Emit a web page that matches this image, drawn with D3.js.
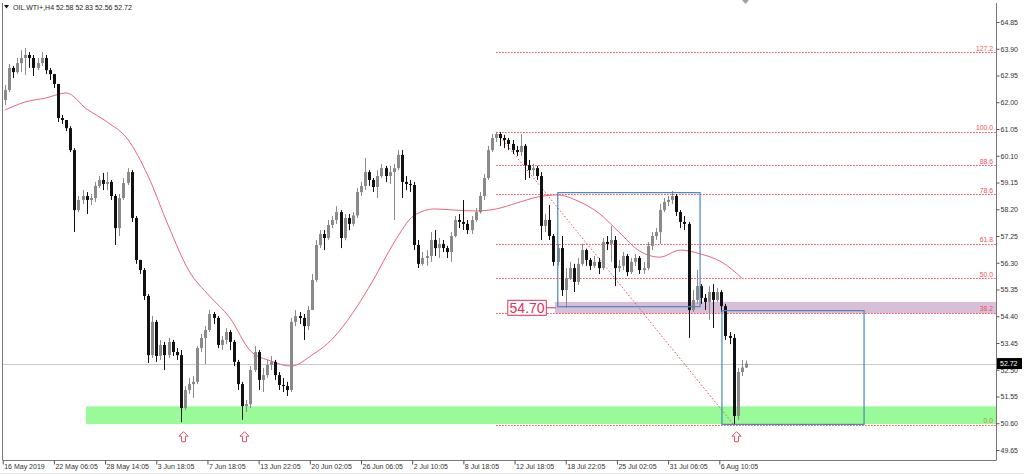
<!DOCTYPE html>
<html>
<head>
<meta charset="utf-8">
<script src="https://cdnjs.cloudflare.com/ajax/libs/d3/7.8.5/d3.min.js"></script>
<style>
  body { margin: 0; background: #fff; }
  svg { display: block; font-family: "Liberation Sans", Arial, sans-serif; }
</style>
</head>
<body>
<div id="chart"></div>
<script>
// Header quote (open, high, low, close of the last bar)
const symbolTitle = "OIL.WTI+,H4";
const lastQuote = [52.58, 52.83, 52.56, 52.72];

// Candles, each one covers two H4 bars (10 per row)
const opens = [
  62.08, 62.43, 63.22, 63.07, 63.39, 63.57, 63.68, 63.57, 63.22, 63.39,
  63.57, 63.14, 63.00, 62.65, 61.44, 61.37, 61.08, 60.30, 58.17, 58.53,
  58.67, 58.53, 58.60, 59.03, 59.24, 59.10, 59.17, 58.67, 57.53, 58.60,
  59.13, 59.52, 57.89, 56.40, 56.04, 55.12, 53.02, 54.20, 52.99, 53.38,
  53.02, 53.49, 53.13, 53.02, 51.14, 51.78, 51.99, 52.07, 53.27, 53.63,
  53.91, 54.48, 54.34, 53.38, 53.56, 53.84, 53.49, 52.78, 51.99, 51.21,
  51.28, 52.49, 53.13, 52.14, 52.31, 52.67, 52.78, 52.31, 51.96, 51.92,
  51.78, 54.20, 54.41, 54.34, 54.05, 54.62, 55.69, 56.93, 57.32, 57.18,
  57.64, 57.82, 58.10, 57.18, 57.89, 57.68, 57.98, 58.81, 59.03, 59.52,
  59.24, 58.99, 59.38, 59.66, 59.38, 59.52, 59.66, 60.13, 59.17, 59.10,
  59.06, 56.93, 56.26, 56.47, 56.54, 57.11, 56.82, 56.97, 56.82, 56.68,
  57.25, 57.82, 57.75, 57.68, 57.46, 57.82, 58.10, 58.67, 59.31, 60.30,
  60.73, 60.87, 60.73, 60.66, 60.52, 60.30, 60.23, 60.45, 59.77, 59.59,
  59.66, 59.38, 57.61, 57.82, 57.25, 56.33, 56.82, 55.33, 55.76, 56.11,
  55.62, 56.26, 56.75, 56.40, 56.19, 56.33, 56.11, 57.04, 56.97, 57.11,
  56.11, 56.19, 56.54, 55.97, 56.33, 56.47, 56.04, 56.11, 56.90, 57.25,
  57.39, 58.17, 58.46, 58.53, 58.67, 58.10, 57.75, 57.68, 54.62, 54.98,
  55.47, 55.05, 54.91, 55.26, 54.98, 55.26, 54.76, 53.70, 53.63, 50.86,
  52.42, 52.58
];
const highs = [
  62.61, 63.36, 63.29, 63.57, 63.85, 63.93, 63.78, 63.68, 63.57, 63.78,
  63.68, 63.22, 63.00, 62.65, 61.55, 61.37, 61.15, 60.37, 58.67, 58.88,
  58.81, 58.74, 59.17, 59.38, 59.49, 59.52, 59.24, 58.74, 58.74, 59.31,
  59.66, 59.59, 57.96, 56.40, 56.11, 55.19, 54.41, 54.27, 53.56, 53.49,
  53.63, 53.56, 53.27, 53.20, 51.92, 52.21, 52.28, 53.34, 53.77, 54.05,
  54.62, 54.55, 54.41, 53.70, 53.98, 53.91, 53.56, 52.85, 52.07, 51.43,
  52.63, 53.34, 53.20, 52.56, 52.85, 52.99, 52.85, 52.42, 52.21, 52.07,
  54.34, 54.62, 54.55, 54.48, 54.76, 55.90, 57.11, 57.46, 57.46, 57.82,
  57.96, 58.31, 58.17, 58.03, 58.03, 58.10, 58.95, 59.17, 60.02, 59.59,
  59.31, 59.59, 59.81, 59.74, 59.74, 59.81, 60.30, 60.30, 59.38, 59.24,
  59.17, 57.11, 56.68, 56.75, 57.39, 57.46, 57.18, 57.11, 56.90, 57.39,
  57.96, 58.03, 58.53, 57.82, 57.96, 58.24, 58.81, 59.45, 60.45, 60.87,
  60.95, 60.94, 60.84, 60.73, 60.66, 60.45, 60.87, 60.52, 59.95, 59.81,
  59.74, 59.52, 58.03, 58.35, 57.32, 56.97, 57.25, 56.11, 56.33, 56.26,
  56.47, 56.97, 56.80, 56.47, 56.54, 56.47, 57.18, 57.25, 57.61, 57.25,
  56.40, 56.68, 56.61, 56.47, 56.61, 56.54, 56.33, 57.04, 57.39, 57.53,
  58.39, 58.60, 58.67, 58.85, 58.74, 58.17, 57.96, 57.75, 55.33, 56.04,
  55.54, 55.19, 55.47, 55.54, 55.40, 55.33, 54.84, 53.84, 53.77, 52.56,
  52.85, 52.83
];
const lows = [
  61.90, 62.36, 62.86, 63.00, 63.07, 62.97, 63.22, 62.93, 63.14, 63.29,
  63.00, 62.79, 62.51, 61.30, 61.23, 60.98, 60.23, 57.39, 58.10, 58.39,
  58.03, 58.35, 58.46, 58.95, 58.88, 58.88, 58.53, 56.93, 57.25, 58.53,
  59.06, 57.75, 56.26, 55.90, 54.98, 52.74, 52.92, 52.78, 52.85, 52.49,
  52.92, 52.99, 52.85, 50.64, 51.07, 51.64, 51.50, 51.99, 53.13, 52.70,
  53.84, 54.12, 53.27, 53.20, 53.41, 53.20, 52.63, 51.78, 50.72, 51.00,
  51.14, 52.42, 51.78, 51.71, 52.21, 52.49, 52.14, 51.78, 51.71, 51.57,
  51.71, 54.05, 54.12, 53.56, 53.91, 54.62, 55.62, 56.82, 56.75, 57.11,
  57.53, 57.68, 56.82, 57.10, 57.46, 57.60, 57.89, 58.67, 58.88, 59.03,
  58.81, 58.60, 59.31, 59.17, 59.10, 57.82, 59.59, 58.60, 58.88, 58.81,
  56.75, 56.11, 56.20, 56.19, 56.33, 56.54, 56.47, 56.68, 56.47, 56.33,
  57.20, 57.53, 57.46, 57.32, 57.32, 57.75, 58.05, 58.53, 59.24, 60.23,
  60.59, 60.45, 60.37, 60.30, 60.16, 60.09, 60.09, 59.24, 59.31, 59.38,
  59.24, 57.11, 57.39, 57.11, 56.19, 56.19, 55.12, 54.70, 55.69, 55.26,
  55.51, 56.19, 56.19, 56.04, 56.11, 55.90, 56.04, 56.75, 56.33, 55.47,
  55.97, 56.04, 55.83, 55.90, 56.19, 55.90, 55.90, 56.04, 56.75, 57.11,
  56.97, 58.10, 58.31, 58.39, 57.96, 57.53, 57.46, 53.63, 54.55, 54.84,
  54.84, 54.62, 54.27, 53.98, 54.91, 54.55, 53.56, 53.41, 50.55, 50.72,
  52.28, 52.56
];
const closes = [
  62.43, 63.22, 63.07, 63.39, 63.57, 63.68, 63.57, 63.22, 63.39, 63.57,
  63.14, 63.00, 62.65, 61.44, 61.37, 61.08, 60.30, 58.17, 58.53, 58.67,
  58.53, 58.60, 59.03, 59.24, 59.10, 59.17, 58.67, 57.53, 58.60, 59.13,
  59.52, 57.89, 56.40, 56.04, 55.12, 53.02, 54.20, 52.99, 53.38, 53.02,
  53.49, 53.13, 53.02, 51.14, 51.78, 51.99, 52.07, 53.27, 53.63, 53.91,
  54.48, 54.34, 53.38, 53.56, 53.84, 53.49, 52.78, 51.99, 51.21, 51.28,
  52.49, 53.13, 52.14, 52.31, 52.67, 52.78, 52.31, 51.96, 51.92, 51.78,
  54.20, 54.41, 54.34, 54.05, 54.62, 55.69, 56.93, 57.32, 57.18, 57.64,
  57.82, 58.10, 57.18, 57.89, 57.68, 57.98, 58.81, 59.03, 59.52, 59.24,
  58.99, 59.38, 59.66, 59.38, 59.52, 59.66, 60.13, 59.17, 59.10, 59.06,
  56.93, 56.26, 56.47, 56.54, 57.11, 56.82, 56.97, 56.82, 56.68, 57.25,
  57.82, 57.75, 57.68, 57.46, 57.82, 58.10, 58.67, 59.31, 60.30, 60.73,
  60.87, 60.73, 60.66, 60.52, 60.30, 60.23, 60.45, 59.77, 59.59, 59.66,
  59.38, 57.61, 57.82, 57.25, 56.33, 56.82, 55.33, 55.76, 56.11, 55.62,
  56.26, 56.75, 56.40, 56.19, 56.33, 56.11, 57.04, 56.97, 57.11, 56.11,
  56.19, 56.54, 55.97, 56.33, 56.47, 56.04, 56.11, 56.90, 57.25, 57.39,
  58.17, 58.46, 58.53, 58.67, 58.10, 57.75, 57.68, 54.62, 54.98, 55.47,
  55.05, 54.91, 55.26, 54.98, 55.26, 54.76, 53.70, 53.63, 50.86, 52.42,
  52.58, 52.72
];

// Moving average, read every 5 candles
const maBars = [0, 5, 10, 15, 20, 25, 30, 35, 40, 45, 50, 55, 60, 65, 70, 75, 80, 85, 90,
  95, 100, 105, 110, 115, 120, 125, 130, 135, 140, 145, 150, 155, 160, 165, 170, 175, 180];
const maValues = [61.72, 62.01, 62.15, 62.33, 61.76, 61.30, 60.69, 59.38, 57.60, 56.01,
  55.12, 54.34, 53.17, 52.81, 52.63, 53.02, 53.59, 54.52, 55.69, 57.00, 57.98, 58.21,
  58.17, 58.14, 58.21, 58.42, 58.63, 58.71, 58.49, 58.07, 57.39, 56.72, 56.50, 56.75,
  56.61, 56.33, 55.76];

// Axes
const priceTicks = [64.85, 63.90, 62.95, 62.00, 61.05, 60.10, 59.15, 58.20, 57.25,
  56.30, 55.35, 54.40, 53.45, 52.50, 51.55, 50.60, 49.65];
const timeLabels = ["16 May 2019", "22 May 06:05", "28 May 14:05", "3 Jun 18:05",
  "7 Jun 18:05", "13 Jun 22:05", "20 Jun 02:05", "26 Jun 06:05", "2 Jul 10:05",
  "8 Jul 18:05", "12 Jul 18:05", "18 Jul 22:05", "25 Jul 02:05", "31 Jul 06:05",
  "6 Aug 10:05"];
const timeLabelBars = [0, 25, 50, 75, 100, 125, 150, 175, 200, 225, 250, 275, 300, 325, 350];

// Fibonacci retracement (100 and 0 anchors) and its levels
const fibLevels = [0, 38.2, 50, 61.8, 78.6, 88.6, 100, 127.2];
const fibLabels = ["0.0", "38.2", "50.0", "61.8", "78.6", "88.6", "100.0", "127.2"];
const fibPrices = [60.95, 50.55];
const fibCandles = [120, 178];

// Drawn objects (H4 bar index where they start, prices)
const supportZone = [51.20, 50.57];
const supportFrom = 40.7;
const resistZone = [54.91, 54.50];
const resistFrom = 269.7;
const rangeBoxBars = [271.1, 340.6];
const rangeBoxPrices = [58.79, 54.74];
const targetBoxBars = [351.3, 420.7];
const targetBoxPrices = [54.60, 50.56];
const levelLabel = 54.70;
const levelLabelBar = 265.5;
const arrowCandles = [43, 58, 178];
const arrowPrice = 50.30;

const width = 1024, height = 474;
const plotRight = 996, plotBottom = 460;

const svg = d3.select("#chart")
    .append("svg")
    .attr("width", width)
    .attr("height", height);

const x = d3.scaleLinear().domain([0, 350]).range([2.7, 719.3]);
const y = d3.scaleLinear().domain([49.65, 64.85]).range([450, 22]);
const candleX = k => x(2 * k + 1);

// zones first so candles sit on top
svg.append("rect")
    .attr("x", x(supportFrom))
    .attr("y", y(supportZone[0]))
    .attr("width", plotRight - x(supportFrom))
    .attr("height", y(supportZone[1]) - y(supportZone[0]))
    .attr("fill", "#98fb98");

svg.append("rect")
    .attr("x", x(resistFrom))
    .attr("y", y(resistZone[0]))
    .attr("width", plotRight - x(resistFrom))
    .attr("height", y(resistZone[1]) - y(resistZone[0]))
    .attr("fill", "#d8bfd8");

// current price line
svg.append("line")
    .attr("x1", 3).attr("x2", plotRight)
    .attr("y1", Math.round(y(lastQuote[3])) + 0.5)
    .attr("y2", Math.round(y(lastQuote[3])) + 0.5)
    .attr("stroke", "#c8c8c8");

// fibonacci levels
const fibPrice = lvl => fibPrices[1] + (fibPrices[0] - fibPrices[1]) * lvl / 100;
const fibX0 = candleX(fibCandles[0]);

svg.selectAll(".fib-line")
    .data(fibLevels)
    .join("line")
    .attr("class", "fib-line")
    .attr("x1", fibX0).attr("x2", plotRight)
    .attr("y1", d => Math.round(y(fibPrice(d))) + 0.5)
    .attr("y2", d => Math.round(y(fibPrice(d))) + 0.5)
    .attr("stroke", "#f04a55")
    .attr("stroke-width", 1)
    .attr("stroke-dasharray", "1.5,1.5");

svg.selectAll(".fib-label")
    .data(fibLevels)
    .join("text")
    .attr("class", "fib-label")
    .attr("x", 993)
    .attr("y", d => y(fibPrice(d)) - 1.5)
    .attr("text-anchor", "end")
    .attr("font-size", 6.8)
    .attr("fill", (d, i) => d === 0 ? "#b88a4a" : "#f0505a")
    .text((d, i) => fibLabels[i]);

svg.append("line")
    .attr("x1", fibX0)
    .attr("y1", y(fibPrices[0]))
    .attr("x2", candleX(fibCandles[1]))
    .attr("y2", y(fibPrices[1]))
    .attr("stroke", "#f04a55")
    .attr("stroke-width", 1)
    .attr("stroke-dasharray", "1.5,2");

// moving average
const maLine = d3.line()
    .x((d, i) => candleX(maBars[i]))
    .y(d => y(d))
    .curve(d3.curveMonotoneX);

svg.append("path")
    .datum(maValues)
    .attr("d", maLine)
    .attr("fill", "none")
    .attr("stroke", "#e8647e")
    .attr("stroke-width", 1);

// candles
const candles = d3.range(closes.length).map(i => ({
    i: i, o: opens[i], h: highs[i], l: lows[i], c: closes[i]
}));
const bullColor = "#8a8a8a", bearColor = "#111";

const g = svg.append("g");
g.selectAll(".wick")
    .data(candles)
    .join("line")
    .attr("class", "wick")
    .attr("x1", d => Math.round(candleX(d.i)) + 0.5)
    .attr("x2", d => Math.round(candleX(d.i)) + 0.5)
    .attr("y1", d => y(d.h))
    .attr("y2", d => y(d.l))
    .attr("stroke", d => d.c >= d.o ? bullColor : bearColor)
    .attr("stroke-width", 1);

g.selectAll(".body")
    .data(candles)
    .join("rect")
    .attr("class", "body")
    .attr("x", d => Math.round(candleX(d.i)) - 1)
    .attr("width", 3)
    .attr("y", d => y(Math.max(d.o, d.c)))
    .attr("height", d => Math.max(1, Math.abs(y(d.o) - y(d.c))))
    .attr("fill", d => d.c >= d.o ? bullColor : bearColor);

// blue boxes
[[rangeBoxBars, rangeBoxPrices], [targetBoxBars, targetBoxPrices]].forEach(b => {
    svg.append("rect")
        .attr("x", x(b[0][0]))
        .attr("y", y(b[1][0]))
        .attr("width", x(b[0][1]) - x(b[0][0]))
        .attr("height", y(b[1][1]) - y(b[1][0]))
        .attr("fill", "none")
        .attr("stroke", "#4a86c0")
        .attr("stroke-width", 1.2);
});

// 54.70 price label
const lblRight = x(levelLabelBar);
const lblY = y(levelLabel);
svg.append("line")
    .attr("x1", lblRight).attr("x2", x(resistFrom) + 1)
    .attr("y1", lblY).attr("y2", lblY)
    .attr("stroke", "#e0305a");
svg.append("rect")
    .attr("x", lblRight - 38.5)
    .attr("y", lblY - 7.5)
    .attr("width", 38.5)
    .attr("height", 15)
    .attr("fill", "#fff")
    .attr("stroke", "#e0305a")
    .attr("stroke-width", 1);
svg.append("text")
    .attr("x", lblRight - 19.2)
    .attr("y", lblY + 5)
    .attr("text-anchor", "middle")
    .attr("font-size", 14)
    .attr("fill", "#e0305a")
    .text(levelLabel.toFixed(2));

// up arrows under the lows
const arrowPath = "M0,0 L4.5,4.5 L2,4.5 L2,10 L-2,10 L-2,4.5 L-4.5,4.5 Z";
svg.selectAll(".arrow")
    .data(arrowCandles)
    .join("path")
    .attr("class", "arrow")
    .attr("d", arrowPath)
    .attr("transform", d => `translate(${Math.round(candleX(d)) + 2.5},${y(arrowPrice)})`)
    .attr("fill", "#fff")
    .attr("stroke", "#e8506a")
    .attr("stroke-width", 1);

// frame
svg.append("line")
    .attr("x1", 2.5).attr("x2", 2.5).attr("y1", 3).attr("y2", plotBottom)
    .attr("stroke", "#777");
svg.append("line")
    .attr("x1", plotRight + 0.5).attr("x2", plotRight + 0.5).attr("y1", 3).attr("y2", plotBottom)
    .attr("stroke", "#777");
svg.append("line")
    .attr("x1", 2.5).attr("x2", plotRight + 0.5).attr("y1", plotBottom + 0.5).attr("y2", plotBottom + 0.5)
    .attr("stroke", "#777");
svg.append("line")
    .attr("x1", 0).attr("x2", width).attr("y1", 473.5).attr("y2", 473.5)
    .attr("stroke", "#e6e6e6");

// price axis
const yAxis = svg.append("g")
    .attr("transform", `translate(${plotRight + 0.5},0)`)
    .call(d3.axisRight(y).tickValues(priceTicks).tickSize(3).tickPadding(1)
        .tickFormat(d3.format(".2f")));
yAxis.select(".domain").remove();
yAxis.selectAll("line").attr("stroke", "#555");
yAxis.selectAll("text").attr("font-size", 7).attr("fill", "#333");

// time axis
const xAxis = svg.append("g")
    .attr("transform", `translate(0,${plotBottom + 0.5})`)
    .call(d3.axisBottom(x).tickValues(timeLabelBars).tickSize(4).tickPadding(0)
        .tickFormat((d, i) => timeLabels[i]));
xAxis.select(".domain").remove();
xAxis.selectAll("line").attr("stroke", "#555");
xAxis.selectAll("text")
    .attr("text-anchor", "start")
    .attr("dx", 1)
    .attr("font-size", 7)
    .attr("fill", "#333");

// last price tag
const tagY = y(lastQuote[3]);
svg.append("rect")
    .attr("x", plotRight + 1).attr("y", tagY - 5.5)
    .attr("width", 25).attr("height", 11)
    .attr("fill", "#000");
svg.append("text")
    .attr("x", plotRight + 4).attr("y", tagY + 2.5)
    .attr("font-size", 7)
    .attr("fill", "#fff")
    .text(lastQuote[3].toFixed(2));

// header
svg.append("path")
    .attr("d", "M4,5 L9,5 L6.5,8.5 Z")
    .attr("fill", "#111");
svg.append("text")
    .attr("x", 13).attr("y", 10)
    .attr("font-size", 7)
    .attr("fill", "#222")
    .text(symbolTitle + "  " + lastQuote.map(v => v.toFixed(2)).join(" "));

// chart shift marker
svg.append("path")
    .attr("d", "M742,0 L749,0 L745.5,4 Z")
    .attr("fill", "#a0a0a0");
</script>
</body>
</html>
